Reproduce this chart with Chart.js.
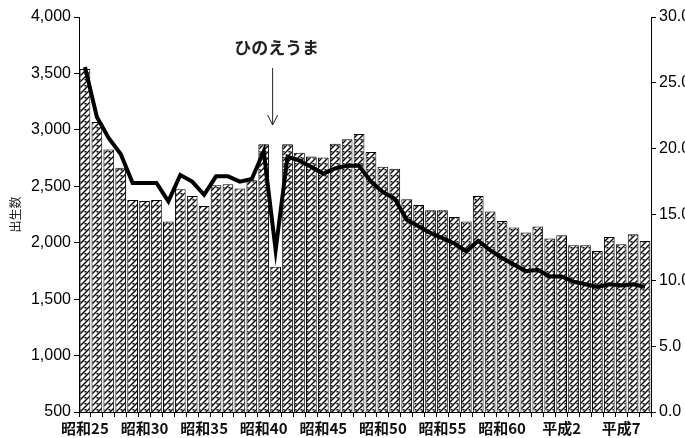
<!DOCTYPE html>
<html>
<head>
<meta charset="utf-8">
<script src="https://cdn.jsdelivr.net/npm/chart.js@4/dist/chart.umd.min.js"></script>
<style>
  html, body { margin: 0; padding: 0; background: #fff; overflow: hidden; }
  #wrap { width: 720px; height: 438px; }
</style>
</head>
<body>
<div id="wrap"><canvas id="birthChart" width="720" height="438"></canvas></div>
<script>
// years: 昭和25 (1950) .. 平成9 (1997)
const years = [];
for (let y = 25; y <= 63; y++) years.push('昭和' + y);
years.push('平成元');
for (let y = 2; y <= 9; y++) years.push('平成' + y);

// 出生数 (left axis)
const births = [
  3540, 3069, 2827, 2665, 2379, 2370, 2379, 2188, 2473, 2414,
  2326, 2509, 2518, 2480, 2553, 2872, 1786, 2872, 2798, 2763,
  2754, 2878, 2916, 2963, 2804, 2674, 2656, 2385, 2335, 2288,
  2288, 2228, 2188, 2414, 2276, 2193, 2134, 2090, 2143, 2037,
  2066, 1978, 1978, 1927, 2051, 1987, 2075, 2016
];

// 出生率 (right axis)
const birthRate = [
  26.2, 22.4, 20.8, 19.6, 17.4, 17.4, 17.4, 16.0, 18.0, 17.5,
  16.5, 17.9, 17.9, 17.5, 17.7, 19.8, 12.3, 19.4, 19.1, 18.6,
  18.1, 18.5, 18.7, 18.7, 17.5, 16.7, 16.2, 14.6, 14.1, 13.6,
  13.2, 12.8, 12.2, 13.0, 12.3, 11.7, 11.2, 10.7, 10.8, 10.3,
  10.3, 9.9, 9.7, 9.5, 9.7, 9.6, 9.7, 9.5
];

const leftTicks = { min: 500, max: 4000, step: 500 };
const rightTicks = { min: 0, max: 30, step: 5 };
const noteLabel = 'ひのえうま';
const noteIndex = years.indexOf('昭和41');

const numFont = '"Liberation Sans", Arial, "Noto Sans CJK JP", sans-serif';
const jpFont = '"Noto Sans CJK JP", "Liberation Sans", sans-serif';

// hatch pattern for bars
function makeHatch() {
    const c = document.createElement('canvas');
    c.width = 6; c.height = 6;
    const g = c.getContext('2d');
    g.fillStyle = '#fff';
    g.fillRect(0, 0, 6, 6);
    g.strokeStyle = '#000';
    g.lineWidth = 1.4;
    g.beginPath();
    g.moveTo(0, 6); g.lineTo(6, 0);
    g.moveTo(-1, 1); g.lineTo(1, -1);
    g.moveTo(5, 7); g.lineTo(7, 5);
    g.stroke();
    g.fillStyle = '#000';
    g.fillRect(0.5, 1, 2, 1.5);
    return document.createElement('canvas').getContext('2d').createPattern(c, 'repeat');
}

const noteArrow = {
    id: 'noteArrow',
    afterDraw(chart) {
        const ctx = chart.ctx;
        const x = chart.scales.x.getPixelForValue(noteIndex) - 3;
        ctx.save();
        ctx.fillStyle = '#222';
        ctx.font = 'bold 17px ' + jpFont;
        ctx.textAlign = 'center';
        ctx.textBaseline = 'middle';
        ctx.fillText(noteLabel, x + 4, 48);
        ctx.strokeStyle = '#222';
        ctx.lineWidth = 1;
        ctx.beginPath();
        ctx.moveTo(x, 68);
        ctx.lineTo(x, 125);
        ctx.moveTo(x - 5, 115);
        ctx.lineTo(x, 125);
        ctx.lineTo(x + 5, 115);
        ctx.stroke();
        ctx.restore();
    }
};

const ctx = document.getElementById('birthChart').getContext('2d');

const birthChart = new Chart(ctx, {
    data: {
        labels: years,
        datasets: [{
            type: 'line',
            label: '出生率',
            data: birthRate,
            yAxisID: 'y1',
            borderColor: '#000',
            borderWidth: 4,
            pointRadius: 0,
            tension: 0,
            order: 0
        }, {
            type: 'bar',
            label: '出生数',
            data: births,
            yAxisID: 'y',
            backgroundColor: makeHatch(),
            borderColor: '#000',
            borderWidth: 1,
            categoryPercentage: 0.9,
            barPercentage: 1.0,
            order: 1
        }]
    },
    options: {
        responsive: false,
        animation: false,
        layout: { padding: { top: 17, left: 0, right: 0, bottom: 0 } },
        plugins: {
            legend: { display: false },
            tooltip: { enabled: false }
        },
        scales: {
            x: {
                offset: true,
                afterFit(scale) { scale.height = 26; },
                grid: {
                    display: true,
                    drawOnChartArea: false,
                    drawTicks: true,
                    tickLength: 5,
                    color: '#000',
                    offset: true
                },
                border: { display: true, color: '#000', width: 1 },
                ticks: {
                    autoSkip: false,
                    maxRotation: 0,
                    padding: 2,
                    color: '#111',
                    font: { family: jpFont, size: 15, weight: 'bold' },
                    callback: (v, i) => (i % 5 === 0 ? years[i] : '')
                }
            },
            y: {
                position: 'left',
                min: leftTicks.min,
                max: leftTicks.max,
                afterFit(scale) { scale.width = 79; },
                grid: { drawOnChartArea: false, tickLength: 5, color: '#000' },
                border: { display: true, color: '#000', width: 1 },
                ticks: {
                    stepSize: leftTicks.step,
                    padding: 3,
                    color: '#000',
                    font: { family: numFont, size: 16 },
                    callback: v => v.toLocaleString('en-US')
                },
                title: {
                    display: true,
                    text: '出生数',
                    color: '#222',
                    font: { family: jpFont, size: 12 },
                    padding: { top: 8, bottom: 0 }
                }
            },
            y1: {
                position: 'right',
                min: rightTicks.min,
                max: rightTicks.max,
                afterFit(scale) { scale.width = 69; },
                grid: { drawOnChartArea: false, tickLength: 5, color: '#000' },
                border: { display: true, color: '#000', width: 1 },
                ticks: {
                    stepSize: rightTicks.step,
                    padding: 3,
                    color: '#000',
                    font: { family: numFont, size: 16 },
                    callback: v => v.toFixed(1)
                }
            }
        }
    },
    plugins: [noteArrow]
});
</script>
</body>
</html>
